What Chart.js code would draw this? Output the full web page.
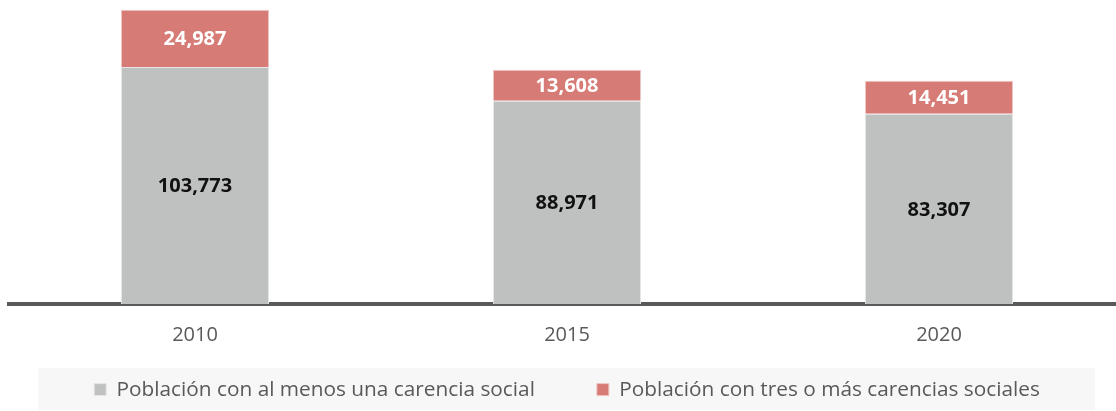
<!DOCTYPE html>
<html>
<head>
<meta charset="utf-8">
<script src="https://cdn.jsdelivr.net/npm/chart.js@4"></script>
<style>
  html, body { margin: 0; padding: 0; background: #fff; overflow: hidden; }
  #wrap { position: relative; width: 1125px; height: 411px; }
</style>
</head>
<body>
<div id="wrap"><canvas id="chart"></canvas></div>
<script>
const years = ['2010', '2015', '2020'];
const alMenosUna = [103773, 88971, 83307];
const tresOMas = [24987, 13608, 14451];
const seriesNames = ['Población con al menos una carencia social', 'Población con tres o más carencias sociales'];

const FONT = "'Open Sans', sans-serif";

// Writes each segment's value in the middle of its bar
const valueLabels = {
    id: 'valueLabels',
    afterDatasetsDraw(chart) {
        const ctx = chart.ctx;
        ctx.save();
        ctx.font = 'bold 20px ' + FONT;
        ctx.textAlign = 'center';
        ctx.textBaseline = 'middle';
        chart.data.datasets.forEach((ds, i) => {
            chart.getDatasetMeta(i).data.forEach((bar, j) => {
                const mid = (bar.y + bar.base) / 2;
                ctx.fillStyle = i === 0 ? '#111' : '#fff';
                ctx.fillText(ds.data[j].toLocaleString('en-US'), bar.x, mid + 1);
            });
        });
        ctx.restore();
    }
};

// Light grey band behind the legend
const legendBand = {
    id: 'legendBand',
    beforeDraw(chart) {
        const ctx = chart.ctx;
        ctx.save();
        ctx.fillStyle = '#f7f7f7';
        ctx.fillRect(38, 368, 1057, 42);
        ctx.restore();
    }
};

const ctx = document.querySelector('#chart').getContext('2d');

new Chart(ctx, {
    type: 'bar',
    data: {
        labels: years,
        datasets: [
            {
                label: seriesNames[0],
                data: alMenosUna,
                backgroundColor: '#bfc1c0',
                borderColor: '#e6e6e6',
                borderWidth: 1,
            },
            {
                label: seriesNames[1],
                data: tresOMas,
                backgroundColor: '#d67b76',
                borderColor: '#f0c6c3',
                borderWidth: 1,
            }
        ]
    },
    options: {
        responsive: true,
        maintainAspectRatio: false,
        animation: false,
        layout: { padding: { top: 7, left: 9, right: 0, bottom: 1 } },
        datasets: {
            bar: { barPercentage: 1, categoryPercentage: 0.398 }
        },
        scales: {
            x: {
                stacked: true,
                grid: { display: false },
                border: { display: true, color: '#595959', width: 4 },
                ticks: {
                    color: '#595959',
                    padding: 11,
                    font: { family: FONT, size: 20 }
                },
                // leave some air between the year labels and the legend
                afterFit(scale) {
                    scale.height += 11;
                }
            },
            y: {
                stacked: true,
                display: false,
                min: 0,
                max: 130000
            }
        },
        plugins: {
            tooltip: { enabled: false },
            legend: {
                position: 'bottom',
                labels: {
                    color: '#595959',
                    boxWidth: 12,
                    boxHeight: 12,
                    padding: 10,
                    font: { family: FONT, size: 20.8 },
                    // extra room after the first entry
                    generateLabels(chart) {
                        const items = Chart.defaults.plugins.legend.labels.generateLabels(chart);
                        items[0].text += '\u2003\u2003\u2002';
                        return items;
                    }
                }
            }
        }
    },
    plugins: [valueLabels, legendBand]
});
</script>
</body>
</html>
